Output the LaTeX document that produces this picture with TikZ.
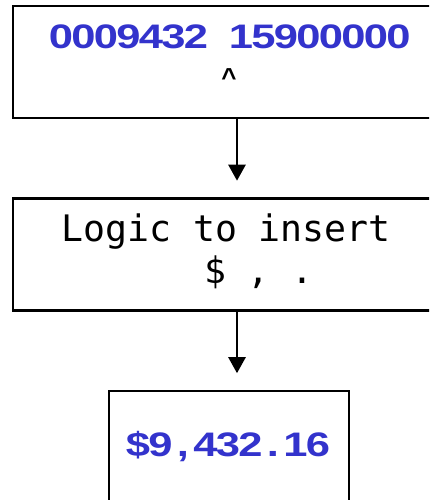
\documentclass[tikz,border=0pt]{standalone}
\usepackage{fontspec}
\usetikzlibrary{arrows.meta}
\newfontfamily\numfont[FakeStretch=1.28]{Liberation Sans Bold}
\newfontfamily\caretfont{Liberation Sans Bold}
\newfontfamily\monof{DejaVu Sans Mono}
\definecolor{numblue}{RGB}{51,51,204}
\newcommand\cc[1]{\makebox[22.5pt][c]{#1}}
\begin{document}
\begin{tikzpicture}[x=1pt,y=-1pt,
  box/.style={draw=black,line width=2.6pt,inner sep=0pt,rectangle},
  numtxt/.style={inner sep=0pt,anchor=base,text=numblue,font=\numfont\fontsize{34}{40}\selectfont},
  monotxt/.style={inner sep=0pt,anchor=base,font=\monof\fontsize{36.5}{44}\selectfont},
  arr/.style={line width=2.6pt,-{Triangle[width=17pt,length=16pt]},shorten >=16.5pt}]
\useasboundingbox (0,0) rectangle (429,500);
\clip (0,0) rectangle (429,500);
\node[box,minimum width=432pt,minimum height=112pt] (top) at (229,62) {};
\node[box,minimum width=432pt,minimum height=112pt] (mid) at (229,254.5) {};
\node[box,minimum width=240pt,minimum height=112pt] (bot) at (229,447) {};
\node[numtxt] (t1) at (229.7,48.3) {\cc0\cc0\cc0\cc9\cc4\cc3\cc2\cc{ }\cc1\cc5\cc9\cc0\cc0\cc0\cc0\cc0};
\node[inner sep=0pt,anchor=base,font=\caretfont\fontsize{26}{32}\selectfont] (caret) at (229,86.5) {\^{}};
\node[monotxt] (m1) at (226,241.7) {Logic to insert};
\node[monotxt] (m2) at (226,283) {\phantom{xxx}\$ , .};
\node[numtxt] (b1) at (228,456.7) {\cc\$\cc9\cc,\cc4\cc3\cc2\cc.\cc1\cc6};
\draw[arr] ([xshift=8pt]top.south) -- ([xshift=8pt]mid.north);
\draw[arr] ([xshift=8pt]mid.south) -- ([xshift=8pt]bot.north);
\end{tikzpicture}
\end{document}
